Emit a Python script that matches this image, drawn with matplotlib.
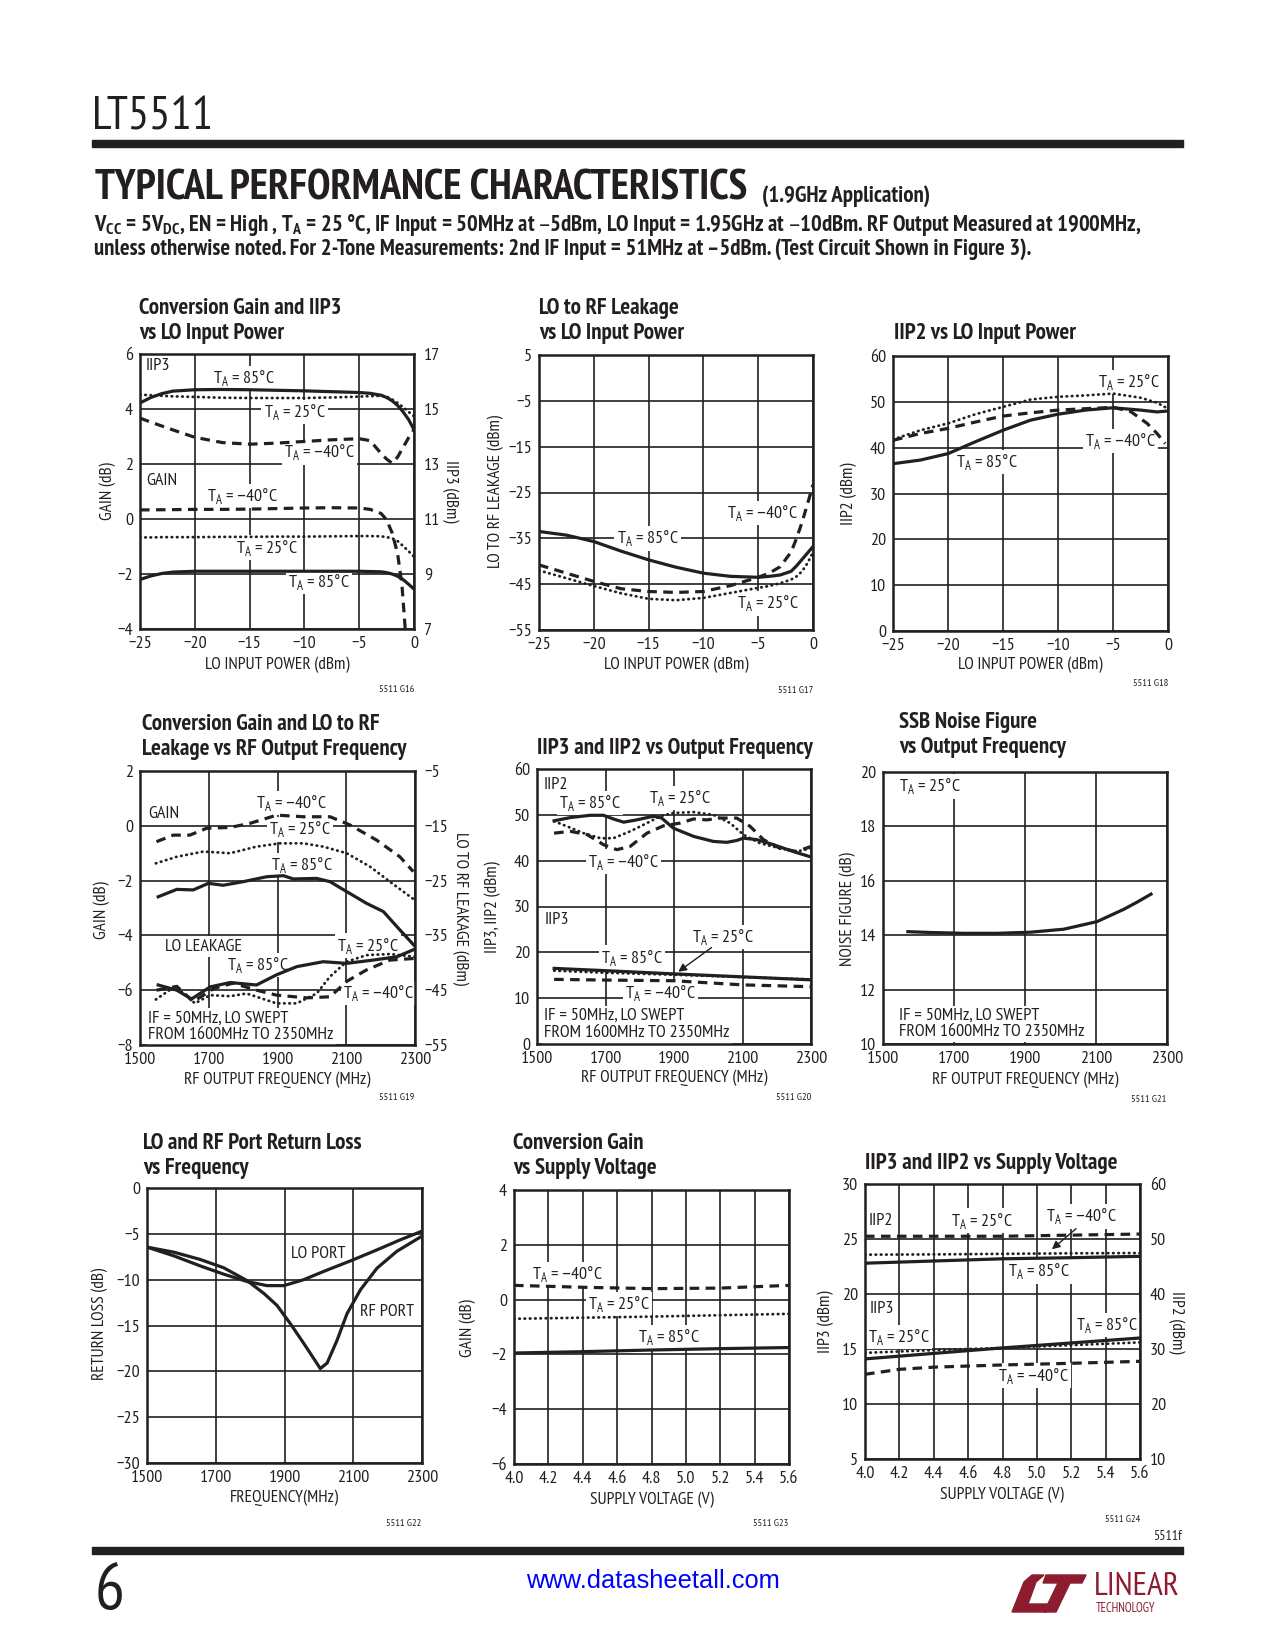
import numpy as np
import matplotlib
matplotlib.use('Agg')
import matplotlib.pyplot as plt
from matplotlib.patches import Polygon, Rectangle

plt.rcParams['font.family'] = ['PT Sans Narrow', 'Roboto Condensed', 'Liberation Sans Narrow', 'Liberation Sans', 'DejaVu Sans']
K = '#231f20'
W, H = 1275, 1650

# ---- G16: conversion gain and IIP3 vs LO power
g16_x = [-25, -24, -23, -22, -20, -17.5, -15, -12.5, -10, -7.5, -5, -4, -3, -2.5, -2, -1.5, -1, -0.5, 0]
g16_iip3_85 = [15.22, 15.42, 15.56, 15.65, 15.7, 15.71, 15.7, 15.68, 15.66, 15.63, 15.6, 15.57, 15.5, 15.42, 15.3, 15.13, 14.9, 14.62, 14.25]
g16_iip3_25 = [15.52, 15.5, 15.48, 15.46, 15.44, 15.41, 15.4, 15.4, 15.4, 15.42, 15.45, 15.47, 15.48, 15.45, 15.35, 15.22, 15.07, 14.9, 14.73]
g16_iip3_m40 = [14.67, 14.52, 14.38, 14.24, 13.97, 13.78, 13.72, 13.76, 13.82, 13.88, 13.92, 13.85, 13.38, 13.18, 13.03, 13.25, 13.6, 13.95, 14.25]
g16_gain_25 = [-0.67, -0.67, -0.66, -0.66, -0.66, -0.65, -0.65, -0.64, -0.64, -0.63, -0.62, -0.62, -0.63, -0.66, -0.7, -0.8, -0.98, -1.17, -1.37]
g16_gain_85 = [-2.2, -2.07, -1.98, -1.93, -1.9, -1.9, -1.9, -1.9, -1.9, -1.9, -1.9, -1.91, -1.92, -1.95, -2.0, -2.08, -2.2, -2.37, -2.55]
g16_m40_x = [-25, -22, -20, -17.5, -15, -12.5, -10, -7.5, -5, -4, -3, -2.5, -2, -1.5, -1.1, -0.8, -0.7]
g16_gain_m40 = [0.33, 0.34, 0.35, 0.35, 0.36, 0.38, 0.4, 0.41, 0.4, 0.35, 0.2, -0.03, -0.5, -1.25, -2.4, -4.0, -4.6]

# ---- G17: LO to RF leakage vs LO power
g17_x = [-25, -22.5, -20, -17.5, -15, -12.5, -10, -7.5, -5, -4, -3, -2, -1.5, -1, -0.5, 0]
g17_85 = [-33.5, -34.3, -35.7, -37.8, -39.7, -41.3, -42.6, -43.3, -43.5, -43.3, -43.0, -42.2, -41.0, -39.6, -38.2, -36.8]
g17_m40 = [-40.8, -42.6, -44.4, -46.0, -46.6, -46.8, -46.6, -45.3, -43.5, -42.6, -41.2, -38.0, -35.0, -31.5, -27.5, -23.3]
g17_25 = [-42.0, -43.7, -45.4, -47.0, -48.2, -48.5, -48.0, -46.9, -45.8, -45.4, -44.8, -44.0, -43.3, -42.2, -40.4, -38.0]

# ---- G18: IIP2 vs LO power
g18_x = [-25, -22.5, -20, -17.5, -15, -12.5, -10, -7.5, -5, -2.5, -1, 0]
g18_25 = [41.8, 43.8, 45.3, 47.3, 48.9, 50.5, 51.1, 51.4, 51.8, 50.9, 49.8, 48.5]
g18_85 = [36.5, 37.3, 38.7, 41.3, 43.8, 46.0, 47.3, 48.2, 48.7, 48.2, 47.8, 48.0]
g18_m40_x = [-25, -22.5, -20, -17.5, -15, -12.5, -10, -7.5, -5, -3.4, -1.9, -1, -0.25]
g18_m40 = [41.6, 43.1, 44.2, 45.6, 46.9, 47.6, 48.2, 48.5, 48.8, 47.9, 45.3, 43.1, 40.9]

# ---- G19: gain and LO leakage vs RF frequency
g19_gm40_x = [1548, 1597, 1645, 1694, 1762, 1820, 1898, 1975, 2053, 2111, 2188, 2256, 2295]
g19_gm40 = [-0.58, -0.34, -0.34, -0.09, -0.06, 0.09, 0.39, 0.33, 0.33, 0.03, -0.52, -1.13, -1.67]
g19_g25_x = [1546, 1607, 1684, 1762, 1839, 1907, 1975, 2033, 2101, 2169, 2227, 2295]
g19_g25 = [-1.37, -1.13, -0.94, -1.0, -0.76, -0.64, -0.64, -0.76, -1.0, -1.49, -2.04, -2.67]
g19_g85_x = [1553, 1607, 1655, 1699, 1742, 1800, 1868, 1917, 1946, 2014, 2053, 2101, 2159, 2208, 2256, 2300]
g19_g85 = [-2.59, -2.32, -2.34, -2.1, -2.17, -2.04, -1.86, -1.82, -1.94, -1.92, -2.04, -2.4, -2.83, -3.13, -3.8, -4.4]
g19_l85_x = [1553, 1607, 1650, 1704, 1762, 1839, 1897, 1956, 2033, 2101, 2179, 2247, 2300]
g19_l85 = [-44.05, -45.0, -46.6, -44.4, -43.6, -44.05, -42.2, -40.7, -39.8, -40.1, -39.5, -38.9, -37.5]
g19_l25_x = [1546, 1602, 1660, 1704, 1762, 1810, 1897, 1956, 2014, 2053, 2101, 2159, 2227, 2300]
g19_l25 = [-46.7, -44.3, -47.4, -45.9, -46.1, -45.6, -47.4, -47.4, -45.6, -42.5, -39.8, -38.6, -38.4, -38.9]
g19_lm40_x = [1548, 1607, 1655, 1714, 1771, 1839, 1897, 1985, 2053, 2101, 2159, 2227, 2300]
g19_lm40 = [-45.0, -44.3, -47.1, -44.7, -43.7, -45.0, -45.9, -46.4, -46.2, -43.4, -41.3, -39.5, -39.2]

# ---- G20: IIP3 and IIP2 vs output frequency
g20_p85_x = [1550, 1597, 1655, 1694, 1723, 1753, 1791, 1840, 1864, 1898, 1957, 2015, 2054, 2083, 2102, 2141, 2190, 2248, 2300]
g20_p85 = [48.7, 49.4, 49.9, 49.9, 49.1, 48.4, 48.9, 49.7, 49.3, 47.1, 45.3, 44.2, 44.0, 44.4, 44.9, 44.6, 43.5, 42.0, 40.8]
g20_p25_x = [1550, 1587, 1636, 1685, 1723, 1772, 1821, 1860, 1898, 1957, 2015, 2064, 2102, 2151, 2209, 2258, 2300]
g20_p25 = [48.6, 47.5, 46.0, 44.9, 44.9, 46.4, 48.2, 49.7, 50.4, 50.6, 50.0, 48.2, 45.7, 43.8, 42.7, 42.0, 42.7]
g20_pm40_x = [1550, 1597, 1646, 1694, 1733, 1772, 1821, 1869, 1918, 1957, 1996, 2034, 2083, 2122, 2161, 2209, 2258, 2300]
g20_pm40 = [46.0, 46.4, 45.7, 43.5, 42.4, 43.1, 46.0, 47.6, 48.2, 49.1, 48.9, 49.3, 49.3, 47.5, 44.6, 42.7, 42.0, 43.1]
g20_i3_x = [1550, 1700, 1900, 2100, 2300]
g20_i3_85 = [16.5, 16.0, 15.3, 14.65, 14.0]
g20_i3_25 = [16.0, 15.55, 15.1, 14.6, 14.1]
g20_i3_m40 = [14.1, 13.95, 13.8, 12.9, 12.5]

# ---- G21: SSB noise figure
g21_x = [1570, 1633, 1727, 1821, 1915, 2009, 2103, 2178, 2215, 2255]
g21_nf = [14.13, 14.1, 14.07, 14.07, 14.11, 14.22, 14.5, 14.95, 15.21, 15.51]

# ---- G22: return loss
g22_lo_x = [1500, 1578, 1655, 1723, 1791, 1849, 1898, 1956, 2014, 2092, 2169, 2237, 2298]
g22_lo = [-6.45, -7.4, -8.5, -9.4, -10.2, -10.65, -10.65, -10.0, -9.1, -7.95, -6.75, -5.65, -4.74]
g22_rf_x = [1500, 1578, 1655, 1723, 1791, 1840, 1878, 1917, 1956, 1985, 2004, 2024, 2053, 2082, 2121, 2169, 2227, 2295]
g22_rf = [-6.45, -7.0, -7.8, -8.7, -10.1, -11.5, -12.8, -14.8, -16.95, -18.6, -19.7, -19.1, -16.6, -13.7, -11.1, -8.75, -6.9, -5.36]

# ---- G23: gain vs supply
g23_v = [4.0, 4.4, 4.8, 5.2, 5.6]
g23_m40 = [0.52, 0.45, 0.4, 0.42, 0.52]
g23_25 = [-0.7, -0.66, -0.62, -0.57, -0.52]
g23_85 = [-1.95, -1.9, -1.84, -1.79, -1.75]

# ---- G24: IIP3 / IIP2 vs supply
g24_v = [4.0, 4.4, 4.8, 5.2, 5.6]
g24_p2_dash = [50.5, 50.5, 50.5, 50.7, 50.9]
g24_p2_dot = [47.15, 47.2, 47.3, 47.4, 47.45]
g24_p2_solid = [45.6, 46.0, 46.4, 46.6, 46.85]
g24_p3_solid = [14.1, 14.6, 15.1, 15.55, 16.0]
g24_p3_dot = [14.65, 14.9, 15.1, 15.35, 15.6]
g24_p3_dash_v = [4.0, 4.2, 4.4, 4.8, 5.2, 5.6]
g24_p3_dash = [12.7, 13.15, 13.35, 13.55, 13.7, 13.88]

lo_ticks = [-25, -20, -15, -10, -5, 0]
f_ticks = [1500, 1700, 1900, 2100, 2300]
v_ticks = [4.0, 4.2, 4.4, 4.6, 4.8, 5.0, 5.2, 5.4, 5.6]

solid = dict(color=K, lw=2.3, zorder=4)
dashed = dict(color=K, lw=2.3, ls=(0, (3.0, 2.0)), zorder=4)
dotted = dict(color=K, lw=2.0, ls=(0, (0.2, 1.7)), dash_capstyle='round', zorder=4)

fig = plt.figure(figsize=(W / 100, H / 100), dpi=100)


def ftext(x, y, s, **kw):
    kw.setdefault('color', K)
    fig.text(x / W, 1 - y / H, s, **kw)


def panel(box, xlim, xticks, ylim, yticks):
    x0, y0, x1, y1 = box
    ax = fig.add_axes([x0 / W, 1 - y1 / H, (x1 - x0) / W, (y1 - y0) / H])
    ax.set_xlim(*xlim)
    ax.set_ylim(*ylim)
    ax.set_xticks(xticks)
    ax.set_yticks(yticks)
    ax.grid(True, color=K, lw=1.2)
    ax.set_axisbelow(True)
    ax.tick_params(length=0, labelsize=13, pad=5, colors=K)
    for s in ax.spines.values():
        s.set_linewidth(1.8)
        s.set_color(K)
        s.set_zorder(5)
    return ax


def right_axis(ax, ylim, yticks):
    a2 = ax.twinx()
    a2.set_ylim(*ylim)
    a2.set_yticks(yticks)
    a2.tick_params(length=0, labelsize=13, pad=7, colors=K)
    for s in a2.spines.values():
        s.set_visible(False)
    return a2


def lab(ax, x, y, s, ha='center', size=13):
    ax.text(x, y, s, ha=ha, va='center', fontsize=size, color=K, zorder=3,
            bbox=dict(facecolor='white', edgecolor='none', pad=1.5))


def TA(t):
    return r'T$_\mathregular{A}$ = ' + t + '°C'


def titles(x, y, s):
    ftext(x, y, s, fontsize=16.5, fontweight='bold', ha='left', va='center', linespacing=1.2)


def xl(x, y, s):
    ftext(x, y, s, fontsize=12.5, ha='center', va='center')


def yl(x, y, s, rot=90):
    ftext(x, y, s, fontsize=12.5, ha='center', va='center', rotation=rot)


def gid(x, y, s):
    ftext(x, y, s, fontsize=7.5, ha='right', va='center')


# ---------------- header ----------------
ftext(92, 118, 'LT5511', fontsize=34, ha='left', va='center')
fig.add_artist(Rectangle((92 / W, 1 - 147 / H), (1183 - 92) / W, 7 / H, transform=fig.transFigure, color=K))
ftext(95, 189, 'TYPICAL PERFORMANCE CHARACTERISTICS', fontsize=30.5, fontweight='bold', ha='left', va='center')
ftext(762, 196, '(1.9GHz Application)', fontsize=16.5, fontweight='bold', ha='left', va='center')
ftext(94, 225, r'V$_\mathregular{CC}$ = 5V$_\mathregular{DC}$, EN = High , T$_\mathregular{A}$ = 25 °C, IF Input = 50MHz at –5dBm, '
      'LO Input = 1.95GHz at –10dBm. RF Output Measured at 1900MHz,', fontsize=16.3, fontweight='bold', ha='left', va='center')
ftext(94, 249, 'unless otherwise noted. For 2-Tone Measurements: 2nd IF Input = 51MHz at –5dBm. (Test Circuit Shown in Figure 3).',
      fontsize=16.3, fontweight='bold', ha='left', va='center')

# ---------------- G16 ----------------
ax = panel((140, 354, 414, 629), (-25, 0), lo_ticks, (-4, 6), [-4, -2, 0, 2, 4, 6])
a2 = right_axis(ax, (7, 17), [7, 9, 11, 13, 15, 17])
ax.plot(g16_x, g16_gain_85, **solid)
ax.plot(g16_x, g16_gain_25, **dotted)
ax.plot(g16_m40_x, g16_gain_m40, **dashed)
a2.plot(g16_x, g16_iip3_85, **solid)
a2.plot(g16_x, g16_iip3_25, **dotted)
a2.plot(g16_x, g16_iip3_m40, **dashed)
lab(ax, -24.5, 5.58, 'IIP3', ha='left')
lab(ax, -15.5, 5.13, TA('85'))
lab(ax, -10.9, 3.88, TA('25'))
lab(ax, -8.6, 2.42, TA('–40'))
lab(ax, -24.45, 1.39, 'GAIN', ha='left')
lab(ax, -15.7, 0.84, TA('–40'))
lab(ax, -13.4, -1.04, TA('25'))
lab(ax, -8.65, -2.28, TA('85'))
titles(139, 321, 'Conversion Gain and IIP3\nvs LO Input Power')
yl(108, 491, 'GAIN (dB)')
yl(450, 491, 'IIP3 (dBm)', rot=270)
xl(277, 665, 'LO INPUT POWER (dBm)')
gid(414, 690, '5511 G16')

# ---------------- G17 ----------------
ax = panel((539, 355, 813, 630), (-25, 0), lo_ticks, (-55, 5), [-55, -45, -35, -25, -15, -5, 5])
ax.plot(g17_x, g17_85, **solid)
ax.plot(g17_x, g17_m40, **dashed)
ax.plot(g17_x, g17_25, **dotted)
lab(ax, -4.6, -29.5, TA('–40'))
lab(ax, -15.1, -35.0, TA('85'))
lab(ax, -4.1, -49.2, TA('25'))
titles(539, 321, 'LO to RF Leakage\nvs LO Input Power')
yl(496, 491, 'LO TO RF LEAKAGE (dBm)')
xl(676, 665, 'LO INPUT POWER (dBm)')
gid(813, 691, '5511 G17')

# ---------------- G18 ----------------
ax = panel((893, 356, 1168, 631), (-25, 0), lo_ticks, (0, 60), [0, 10, 20, 30, 40, 50, 60])
ax.plot(g18_x, g18_25, **dotted)
ax.plot(g18_m40_x, g18_m40, **dashed)
ax.plot(g18_x, g18_85, **solid)
lab(ax, -3.6, 54.3, TA('25'))
lab(ax, -4.3, 41.4, TA('–40'))
lab(ax, -16.5, 36.9, TA('85'))
titles(894, 334, 'IIP2 vs LO Input Power')
yl(849, 494, 'IIP2 (dBm)')
xl(1030, 665, 'LO INPUT POWER (dBm)')
gid(1168, 683, '5511 G18')

# ---------------- G19 ----------------
ax = panel((140, 771, 415, 1045), (1500, 2300), f_ticks, (-8, 2), [-8, -6, -4, -2, 0, 2])
a2 = right_axis(ax, (-55, -5), [-55, -45, -35, -25, -15, -5])
ax.plot(g19_gm40_x, g19_gm40, **dashed)
ax.plot(g19_g25_x, g19_g25, **dotted)
ax.plot(g19_g85_x, g19_g85, **solid)
a2.plot(g19_l85_x, g19_l85, **solid)
a2.plot(g19_l25_x, g19_l25, **dotted)
a2.plot(g19_lm40_x, g19_lm40, **dashed)
lab(ax, 1524, 0.42, 'GAIN', ha='left')
lab(ax, 1941, 0.84, TA('–40'))
lab(ax, 1965, -0.13, TA('25'))
lab(ax, 1970, -1.43, TA('85'))
lab(ax, 1573, -4.41, 'LO LEAKAGE', ha='left')
lab(ax, 1844, -5.08, TA('85'))
lab(ax, 2164, -4.37, TA('25'))
lab(ax, 2193, -6.11, TA('–40'))
lab(ax, 1524, -7.03, 'IF = 50MHz, LO SWEPT', ha='left')
lab(ax, 1524, -7.63, 'FROM 1600MHz TO 2350MHz', ha='left')
titles(142, 737, 'Conversion Gain and LO to RF\nLeakage vs RF Output Frequency')
yl(102, 910, 'GAIN (dB)')
yl(460, 909, 'LO TO RF LEAKAGE (dBm)', rot=270)
xl(277, 1080, 'RF OUTPUT FREQUENCY (MHz)')
gid(414, 1098, '5511 G19')

# ---------------- G20 ----------------
ax = panel((537, 769, 811, 1044), (1500, 2300), f_ticks, (0, 60), [0, 10, 20, 30, 40, 50, 60])
ax.plot(g20_p85_x, g20_p85, **solid)
ax.plot(g20_p25_x, g20_p25, **dotted)
ax.plot(g20_pm40_x, g20_pm40, **dashed)
ax.plot(g20_i3_x, g20_i3_85, **solid)
ax.plot(g20_i3_x, g20_i3_25, **dotted)
ax.plot(g20_i3_x, g20_i3_m40, **dashed)
lab(ax, 1519, 56.6, 'IIP2', ha='left')
lab(ax, 1655, 52.6, TA('85'))
lab(ax, 1916, 53.7, TA('25'))
lab(ax, 1753, 39.8, TA('–40'))
lab(ax, 1521, 27.1, 'IIP3', ha='left')
lab(ax, 2042, 23.3, TA('25'))
ax.annotate('', xy=(1906, 15.4), xytext=(2016, 21.4),
            arrowprops=dict(arrowstyle='-|>', color=K, lw=1.0, mutation_scale=12), zorder=5)
lab(ax, 1777, 18.85, TA('85'))
lab(ax, 1860, 11.05, TA('–40'))
lab(ax, 1521, 6.1, 'IF = 50MHz, LO SWEPT', ha='left')
lab(ax, 1521, 2.3, 'FROM 1600MHz TO 2350MHz', ha='left')
titles(537, 749, 'IIP3 and IIP2 vs Output Frequency')
yl(493, 907, 'IIP3, IIP2 (dBm)')
xl(674, 1078, 'RF OUTPUT FREQUENCY (MHz)')
gid(811, 1097, '5511 G20')

# ---------------- G21 ----------------
ax = panel((883, 772, 1167, 1044), (1500, 2300), f_ticks, (10, 20), [10, 12, 14, 16, 18, 20])
ax.plot(g21_x, g21_nf, **solid)
lab(ax, 1544, 19.47, TA('25'), ha='left')
lab(ax, 1544, 11.04, 'IF = 50MHz, LO SWEPT', ha='left')
lab(ax, 1544, 10.43, 'FROM 1600MHz TO 2350MHz', ha='left')
titles(899, 735, 'SSB Noise Figure\nvs Output Frequency')
yl(848, 909, 'NOISE FIGURE (dB)')
xl(1025, 1080, 'RF OUTPUT FREQUENCY (MHz)')
gid(1166, 1099, '5511 G21')

# ---------------- G22 ----------------
ax = panel((147, 1188, 422, 1463), (1500, 2300), f_ticks, (-30, 0), [-30, -25, -20, -15, -10, -5, 0])
ax.plot(g22_lo_x, g22_lo, **solid)
ax.plot(g22_rf_x, g22_rf, **solid)
lab(ax, 1999, -7.2, 'LO PORT')
lab(ax, 2198, -13.56, 'RF PORT')
titles(143, 1156, 'LO and RF Port Return Loss\nvs Frequency')
yl(100, 1324, 'RETURN LOSS (dB)')
xl(284, 1498, 'FREQUENCY(MHz)')
gid(421, 1523, '5511 G22')

# ---------------- G23 ----------------
ax = panel((514, 1190, 789, 1464), (4.0, 5.6), v_ticks, (-6, 4), [-6, -4, -2, 0, 2, 4])
ax.plot(g23_v, g23_m40, **dashed)
ax.plot(g23_v, g23_25, **dotted)
ax.plot(g23_v, g23_85, **solid)
lab(ax, 4.31, 0.93, TA('–40'))
lab(ax, 4.61, -0.17, TA('25'))
lab(ax, 4.90, -1.38, TA('85'))
titles(513, 1156, 'Conversion Gain\nvs Supply Voltage')
yl(468, 1328, 'GAIN (dB)')
xl(652, 1500, 'SUPPLY VOLTAGE (V)')
gid(788, 1524, '5511 G23')

# ---------------- G24 ----------------
ax = panel((865, 1184, 1140, 1459), (4.0, 5.6), v_ticks, (5, 30), [5, 10, 15, 20, 25, 30])
a2 = right_axis(ax, (10, 60), [10, 20, 30, 40, 50, 60])
ax.plot(g24_v, g24_p3_solid, **solid)
ax.plot(g24_v, g24_p3_dot, **dotted)
ax.plot(g24_p3_dash_v, g24_p3_dash, **dashed)
a2.plot(g24_v, g24_p2_dash, **dashed)
a2.plot(g24_v, g24_p2_dot, **dotted)
a2.plot(g24_v, g24_p2_solid, **solid)
lab(ax, 4.023, 26.67, 'IIP2', ha='left')
lab(ax, 4.68, 26.67, TA('25'))
lab(ax, 5.26, 27.06, TA('–40'))
ax.annotate('', xy=(5.075, 23.9), xytext=(5.24, 26.1),
            arrowprops=dict(arrowstyle='-|>', color=K, lw=1.0, mutation_scale=12), zorder=5)
lab(ax, 5.01, 22.06, TA('85'))
lab(ax, 4.027, 18.64, 'IIP3', ha='left')
lab(ax, 4.2, 16.1, TA('25'))
lab(ax, 5.406, 17.2, TA('85'))
lab(ax, 4.98, 12.58, TA('–40'))
titles(865, 1164, 'IIP3 and IIP2 vs Supply Voltage')
yl(826, 1322, 'IIP3 (dBm)')
yl(1176, 1322, 'IIP2 (dBm)', rot=270)
xl(1002, 1495, 'SUPPLY VOLTAGE (V)')
gid(1140, 1519, '5511 G24')

# ---------------- footer ----------------
ftext(1182, 1537, '5511f', fontsize=10, ha='right', va='center')
fig.add_artist(Rectangle((92 / W, 1 - 1554 / H), (1183 - 92) / W, 7 / H, transform=fig.transFigure, color=K))
ftext(95, 1592, '6', fontsize=48, ha='left', va='center')
ftext(653, 1581, 'www.datasheetall.com', fontsize=18.3, ha='center', va='center', color='#0000ff',
      family=['Liberation Sans', 'DejaVu Sans'])

red = '#8c1c2e'
lg = fig.add_axes([1010 / W, 1 - 1616 / H, 175 / W, 46 / H])
lg.set_xlim(0, 175)
lg.set_ylim(46, 0)
lg.axis('off')
lg.add_patch(Polygon([(2, 42), (14, 12), (22, 5), (34, 5), (26, 12), (18, 34), (40, 34), (36, 42)], closed=True, color=red))
lg.add_patch(Polygon([(36, 5), (76, 5), (72, 13), (60, 13), (46, 42), (34, 42), (48, 13), (33, 13)], closed=True, color=red))
lg.text(84, 17, 'LINEAR', fontsize=24, color=red, ha='left', va='center')
lg.text(86, 38, 'TECHNOLOGY', fontsize=9, color=red, ha='left', va='center')

fig.savefig('out.png', dpi=100, facecolor='white')
